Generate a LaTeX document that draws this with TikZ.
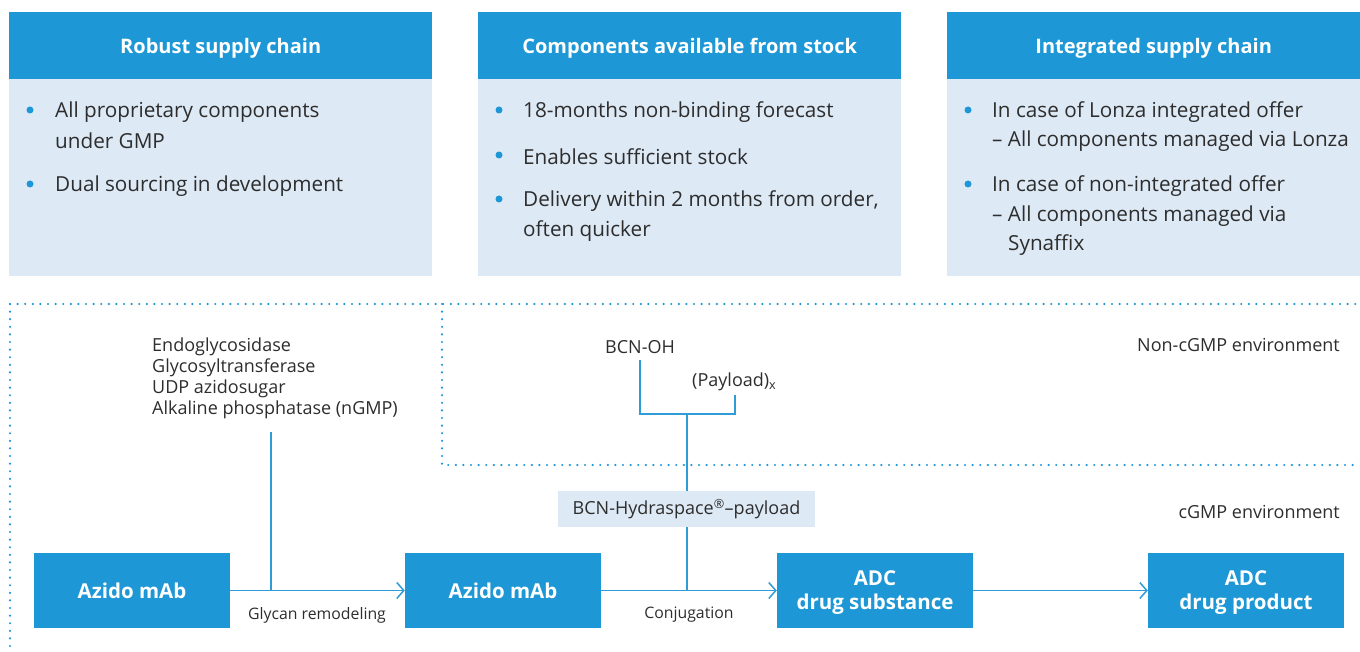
\documentclass[tikz,border=0pt]{standalone}
\usepackage{fontspec}
\setmainfont{Open Sans}
\usetikzlibrary{arrows.meta}
\definecolor{hblue}{HTML}{1D97D5}
\definecolor{lblue}{HTML}{DDE9F5}
\definecolor{lineblue}{HTML}{2F9BD7}
\definecolor{txt}{HTML}{2D2D2D}
\tikzset{
  header/.style={fill=hblue, text=white, font=\fontsize{20}{24}\selectfont\bfseries, anchor=north west, inner sep=0pt, text depth=0pt},
  cardbody/.style={fill=lblue, anchor=north west, inner sep=0pt},
  btxt/.style={text=txt, font=\fontsize{20.7}{24}\selectfont, anchor=west, inner sep=0pt, yshift=-2pt},
  stxt/.style={text=txt, font=\fontsize{18}{21}\selectfont, inner sep=0pt},
  ltxt/.style={text=txt, font=\fontsize{15.8}{19}\selectfont, inner sep=0pt},
  bdot/.style={fill=hblue, circle, inner sep=0pt, minimum size=7pt},
  proc/.style={fill=hblue, text=white, font=\fontsize{20.5}{24}\selectfont\bfseries, align=center, minimum width=196pt, minimum height=75pt, inner sep=0pt, text depth=0pt},
  conn/.style={draw=lineblue, line width=1.5pt},
  arr/.style={conn, -{Straight Barb[length=7pt,width=16pt]}},
  dots/.style={draw=hblue, line width=2.4pt, line cap=round, dash pattern=on 0pt off 7.6pt},
}
\begin{document}
\begin{tikzpicture}[x=1pt,y=-1pt]
\useasboundingbox (0,0) rectangle (1360,652);
% cards
\node[cardbody, minimum width=423pt, minimum height=197pt] (b1) at (9,79) {};
\node[header, minimum width=423pt, minimum height=67pt] (h1) at (9,12) {Robust supply chain};
\node[cardbody, minimum width=423pt, minimum height=197pt] (b2) at (478,79) {};
\node[header, minimum width=423pt, minimum height=67pt] (h2) at (478,12) {Components available from stock};
\node[cardbody, minimum width=413pt, minimum height=197pt] (b3) at (947,79) {};
\node[header, minimum width=413pt, minimum height=67pt] (h3) at (947,12) {Integrated supply chain};
% card 1 text
\node[bdot] (d11) at (30,110) {};
\node[btxt] (t11) at (55,110) {All proprietary components};
\node[btxt] (t12) at (55,139) {under GMP};
\node[bdot] (d12) at (30,184) {};
\node[btxt] (t13) at (55,184) {Dual sourcing in development};
% card 2 text
\node[bdot] (d21) at (499,110) {};
\node[btxt] (t21) at (523,110) {18-months non-binding forecast};
\node[bdot] (d22) at (499,155) {};
\node[btxt] (t22) at (523,155) {Enables sufficient stock};
\node[bdot] (d23) at (499,199) {};
\node[btxt] (t23) at (523,199) {Delivery within 2 months from order,};
\node[btxt] (t24) at (523,229) {often quicker};
% card 3 text
\node[bdot] (d31) at (968,110) {};
\node[btxt] (t31) at (992,110) {In case of Lonza integrated offer};
\node[btxt] (t32) at (992,139) {– All components managed via Lonza};
\node[bdot] (d32) at (968,184) {};
\node[btxt] (t33) at (992,184) {In case of non-integrated offer};
\node[btxt] (t34) at (992,214) {– All components managed via};
\node[btxt] (t35) at (1008,243) {Synaffix};
% dotted environment borders
\draw[dots] (10,304) -- (1360,304);
\draw[dots] (10,304) -- (10,652);
\draw[dots] (442,304) -- (442,465) -- (1360,465);
\node[stxt, anchor=east] (env1) at (1340,345) {Non-cGMP environment};
\node[stxt, anchor=east] (env2) at (1340,512) {cGMP environment};
% enzymes
\node[stxt, anchor=north west, align=left] (enz) at (152,338) {Endoglycosidase\\Glycosyltransferase\\UDP azidosugar\\Alkaline phosphatase (nGMP)};
% process boxes
\node[proc] (p1) at (132,590.5) {Azido mAb};
\node[proc] (p2) at (503,590.5) {Azido mAb};
\node[proc] (p3) at (875,590.5) {ADC\\drug substance};
\node[proc] (p4) at (1246,590.5) {ADC\\drug product};
\draw[arr] (p1) -- (p2);
\draw[arr] (p2) -- (p3);
\draw[arr] (p3) -- (p4);
\node[ltxt] (l1) at (317,615) {Glycan remodeling};
\node[ltxt] (l2) at (689,615) {Conjugation};
% enzyme connector
\coordinate (e1) at (271,432);
\coordinate (e2) at (271,590.5);
\draw[conn] (e1) -- (e2);
% BCN branch
\node[stxt] (bcn) at (640,347) {BCN-OH};
\node[stxt, anchor=west] (pay) at (692,382) {(Payload)\textsubscript{x}};
\node[fill=lblue, text=txt, font=\fontsize{18}{21}\selectfont, minimum width=257pt, minimum height=36pt, inner sep=0pt] (hyd) at (686.5,509) {BCN-Hydraspace\textsuperscript{®}–payload};
\coordinate (c1) at (640,360);
\coordinate (c2) at (735,395);
\coordinate (j) at (687,414);
\coordinate (k) at (687,590.5);
\draw[conn] (c1) |- (j) -| (c2);
\draw[conn] (j) -- (hyd.north -| j);
\draw[conn] (hyd.south -| k) -- (k);
\end{tikzpicture}
\end{document}
